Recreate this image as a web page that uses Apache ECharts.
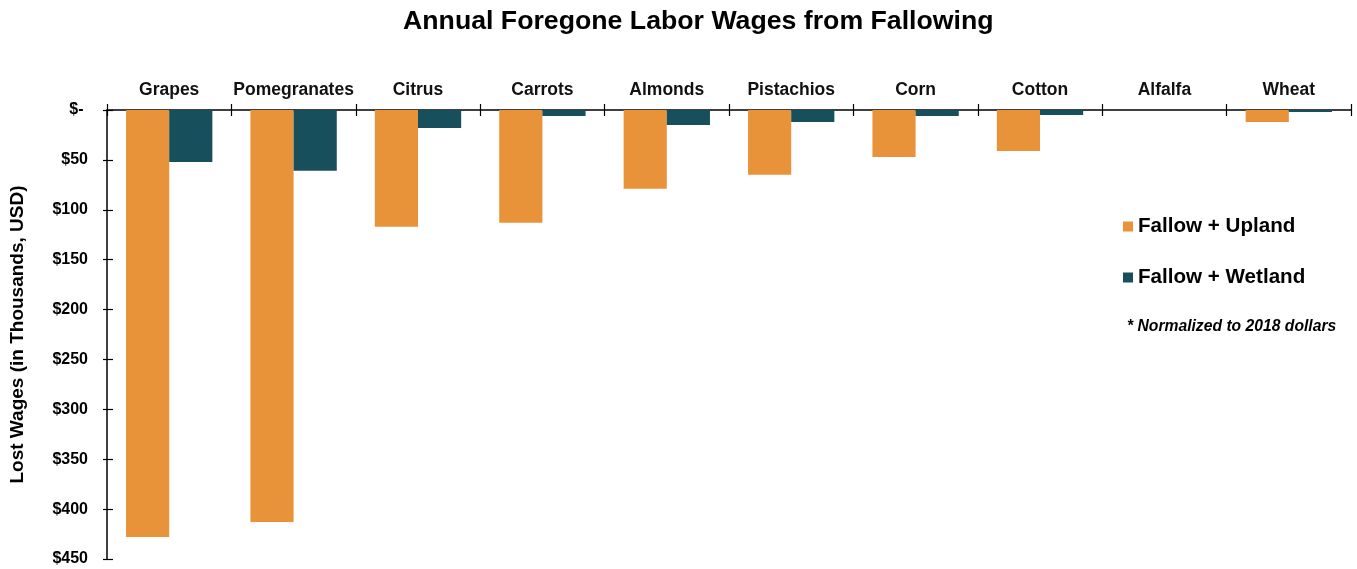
<!DOCTYPE html>
<html>
<head>
<meta charset="utf-8">
<script src="https://cdn.jsdelivr.net/npm/echarts@6/dist/echarts.min.js"></script>
<style>
  html, body { margin: 0; padding: 0; background: #ffffff; }
  #chart { width: 1357px; height: 569px; }
</style>
</head>
<body>
<div id="chart"></div>
<script>
// Crop categories and annual foregone wages (thousands of USD, 2018 dollars)
const categories = ['Grapes', 'Pomegranates', 'Citrus', 'Carrots', 'Almonds', 'Pistachios', 'Corn', 'Cotton', 'Alfalfa', 'Wheat'];
const uplandWages = [428, 413, 117, 113, 79, 65, 47, 41, 0, 12];
const wetlandWages = [52, 61, 18, 6, 15, 12, 6, 5, 0, 2];
const yTickValues = [0, 50, 100, 150, 200, 250, 300, 350, 400, 450];
const yTickLabels = ['$- ', '$50', '$100', '$150', '$200', '$250', '$300', '$350', '$400', '$450'];
const seriesNames = ['Fallow + Upland', 'Fallow + Wetland'];
const noteText = '* Normalized to 2018 dollars';

const FONT = '"Liberation Sans", Arial, sans-serif';
const ORANGE = '#E8923A';
const TEAL = '#174F5C';

const chart = echarts.init(document.getElementById('chart'), null, { renderer: 'canvas' });

const yBase = {
  type: 'value',
  position: 'left',
  inverse: true,
  min: 0,
  max: 450,
  interval: 50,
  splitLine: { show: false }
};

chart.setOption({
  animation: false,
  backgroundColor: '#ffffff',
  title: {
    text: 'Annual Foregone Labor Wages from Fallowing',
    left: 403,
    top: 8,
    padding: 0,
    textStyle: { fontFamily: FONT, fontSize: 26.7, fontWeight: 'bold', color: '#000' }
  },
  legend: {
    orient: 'vertical',
    left: 1123,
    top: 216,
    padding: 0,
    itemWidth: 10,
    itemHeight: 10,
    itemGap: 30,
    icon: 'rect',
    data: seriesNames,
    textStyle: { fontFamily: FONT, fontSize: 20.6, fontWeight: 'bold', color: '#000', lineHeight: 20 }
  },
  graphic: [{
    type: 'text',
    left: 1127,
    top: 319,
    style: {
      text: noteText,
      font: 'italic bold 15.7px ' + FONT,
      fill: '#000'
    }
  }],
  grid: { left: 107, right: 6, top: 110, bottom: 10 },
  xAxis: [{
    type: 'category',
    position: 'top',
    data: categories,
    axisLine: { show: true, lineStyle: { color: '#000', width: 1.5 } },
    axisTick: { show: true, length: 6, lineStyle: { color: '#000', width: 1.2 } },
    axisLabel: { interval: 0, fontFamily: FONT, fontSize: 17.5, fontWeight: 'bold', color: '#111', margin: 11 }
  }, {
    type: 'category',
    position: 'top',
    data: categories,
    axisLine: { show: false },
    axisTick: { show: true, inside: true, length: 6, lineStyle: { color: '#000', width: 1.2 } },
    axisLabel: { show: false }
  }],
  yAxis: [Object.assign({}, yBase, {
    name: 'Lost Wages (in Thousands, USD)',
    nameLocation: 'middle',
    nameRotate: 90,
    nameGap: 80,
    nameTextStyle: { fontFamily: FONT, fontSize: 19, fontWeight: 'bold', color: '#000' },
    axisLine: { show: true, lineStyle: { color: '#000', width: 1.5 } },
    axisTick: { show: true, length: 4, lineStyle: { color: '#000', width: 1.2 } },
    axisLabel: {
      fontFamily: FONT, fontSize: 16, fontWeight: 'bold', color: '#000', margin: 19,
      formatter: v => yTickLabels[yTickValues.indexOf(v)]
    }
  }), Object.assign({}, yBase, {
    axisLine: { show: false },
    axisTick: { show: true, inside: true, length: 6, lineStyle: { color: '#000', width: 1.2 } },
    axisLabel: { show: false }
  })],
  series: [{
    name: seriesNames[0],
    type: 'bar',
    data: uplandWages,
    itemStyle: { color: ORANGE },
    barGap: '0%',
    barCategoryGap: '30.6%'
  }, {
    name: seriesNames[1],
    type: 'bar',
    data: wetlandWages,
    itemStyle: { color: TEAL },
    barGap: '0%',
    barCategoryGap: '30.6%'
  }]
});
</script>
</body>
</html>
